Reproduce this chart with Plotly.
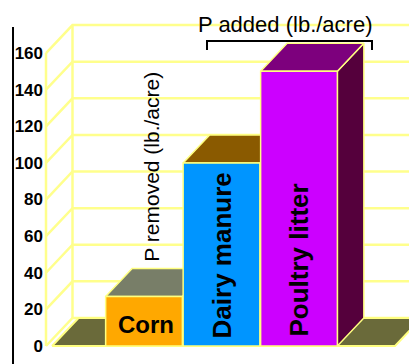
import plotly.graph_objects as go

# P balance per source (lb./acre)
categories = ["Corn", "Dairy manure", "Poultry litter"]
p_values = [27, 100, 150]
y_ticks = [0, 20, 40, 60, 80, 100, 120, 140, 160]

# face colours: front, top, side
front_colors = ["#FFA800", "#0095FF", "#CC00FF"]
top_colors = ["#787E68", "#8A5A00", "#7D007D"]
side_colors = ["#6A6A40", "#5A3A00", "#55003C"]

GRID = "#FFFF8C"
EDGE = "#FFFF80"
FLOOR = "#6A6A3A"

# pseudo-3D depth offset in axis units
DX, DY = 0.342, 15.3
HALF = 0.495
X_MIN, X_MAX = -1.2903, 3.4194
Y_MIN, Y_MAX = -9.83, 188.97
WALL_X = -1.2645

fig = go.Figure()


def poly(xs, ys, fill, line_color=EDGE, width=1.5):
    fig.add_trace(go.Scatter(
        x=xs + [xs[0]], y=ys + [ys[0]], mode="lines", fill="toself",
        fillcolor=fill, line=dict(color=line_color, width=width),
        hoverinfo="skip", showlegend=False))


def line(xs, ys, color=GRID, width=2.5):
    fig.add_trace(go.Scatter(
        x=xs, y=ys, mode="lines", line=dict(color=color, width=width),
        hoverinfo="skip", showlegend=False))


# back wall grid: diagonals from the front edge, then across the back
for v in y_ticks:
    line([WALL_X, WALL_X + DX, X_MAX], [v, v + DY, v + DY])
line([WALL_X, WALL_X], [0, y_ticks[-1]])
line([WALL_X + DX, WALL_X + DX], [DY, y_ticks[-1] + DY])

# floor
fl, fr = -1.187, 3.239
poly([fl, fr, fr + DX, fl + DX], [0, 0, DY, DY], FLOOR, width=2)

# bars, left to right so each front face covers its neighbour's side
for i, (v, fc, tc, sc) in enumerate(zip(p_values, front_colors, top_colors, side_colors)):
    x0, x1 = i - HALF, i + HALF
    poly([x1, x1 + DX, x1 + DX, x1], [0, DY, v + DY, v], sc)
    poly([x0, x1, x1 + DX, x0 + DX], [v, v, v + DY, v + DY], tc)
    poly([x0, x1, x1, x0], [0, 0, v, v], fc)

bar_font = dict(family="Liberation Sans, Arial, sans-serif", size=24, color="black", weight="bold")
fig.add_annotation(x=0.03, y=p_values[0] / 2 - 1.5, text=categories[0], showarrow=False,
                   font=bar_font)
fig.add_annotation(x=1.0, y=49.2, text=categories[1], showarrow=False, textangle=-90,
                   font=dict(bar_font, size=26))
fig.add_annotation(x=2.0, y=46.7, text=categories[2], showarrow=False, textangle=-90,
                   font=dict(bar_font, size=26))

label_font = dict(family="Liberation Sans, Arial, sans-serif", size=21, color="black")
fig.add_annotation(x=0.10, y=97.8, text="P removed (lb./acre)", showarrow=False,
                   textangle=-90, font=label_font)
fig.add_annotation(x=1.82, y=175.5, text="P added (lb./acre)", showarrow=False,
                   font=dict(label_font, size=22))

# bracket over the added-P bars
bx0, bx1 = 1 - HALF + 0.308, 2 + HALF + DX + 0.105
fig.add_shape(type="path", xref="x", yref="y",
              path=f"M {bx0},161.7 L {bx0},166.6 L {bx1},166.6 L {bx1},161.7",
              line=dict(color="black", width=2))

# left rule beside the tick labels
fig.add_shape(type="line", xref="paper", yref="paper",
              x0=-0.0849, x1=-0.0849, y0=0, y1=0.9258,
              line=dict(color="black", width=2))

fig.update_layout(
    width=409, height=364,
    margin=dict(l=44, r=0, t=0, b=0),
    paper_bgcolor="white", plot_bgcolor="white",
    showlegend=False,
    xaxis=dict(range=[X_MIN, X_MAX], visible=False, fixedrange=True),
    yaxis=dict(range=[Y_MIN, Y_MAX], tickvals=y_ticks, showgrid=False,
               zeroline=False, showline=False, ticks="",
               tickfont=dict(family="Liberation Sans, Arial, sans-serif",
                             size=17, color="black", weight="bold"),
               fixedrange=True),
)

fig.write_html("out.html")
